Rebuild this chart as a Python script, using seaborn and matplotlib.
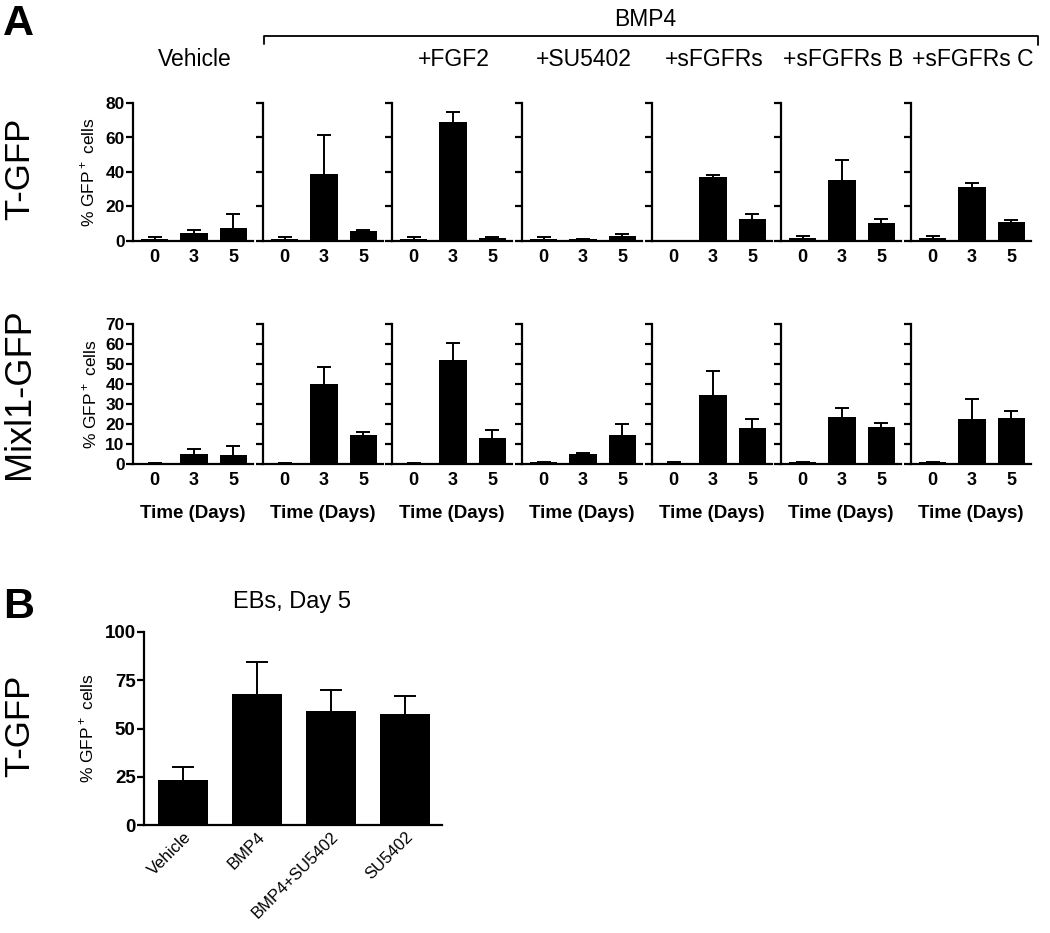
import numpy as np
import pandas as pd
import seaborn as sns
from matplotlib import pyplot as plt
from matplotlib.lines import Line2D

# datos
dias = ['0', '3', '5']
condiciones = ['Vehicle', 'BMP4', '+FGF2', '+SU5402', '+sFGFRs', '+sFGFRs B', '+sFGFRs C']
titulos = ['Vehicle', '', '+FGF2', '+SU5402', '+sFGFRs', '+sFGFRs B', '+sFGFRs C']

t_media = [[1.3, 4.4, 7.7], [1.3, 39.0, 6.0], [1.0, 69.2, 2.0], [1.0, 1.0, 3.1],
           [0.2, 36.9, 12.7], [1.7, 35.4, 10.6], [1.7, 31.3, 11.2]]
t_sem = [[1.2, 1.8, 7.9], [1.2, 22.7, 0.5], [1.3, 5.4, 0.2], [1.1, 0.3, 1.1],
         [0.0, 1.6, 3.1], [1.2, 11.3, 2.1], [1.4, 2.2, 1.1]]

mixl_media = [[0.5, 5.2, 4.7], [0.5, 40.2, 14.7], [0.5, 52.1, 13.2], [0.8, 4.8, 14.5],
              [0.5, 34.6, 18.2], [0.8, 23.5, 18.7], [0.8, 22.5, 23.0]]
mixl_sem = [[0.0, 2.5, 4.5], [0.0, 8.5, 1.3], [0.0, 8.2, 3.8], [0.2, 0.9, 5.5],
            [0.5, 11.7, 4.5], [0.4, 4.7, 1.8], [0.4, 10.2, 3.5]]

eb_grupos = ['Vehicle', 'BMP4', 'BMP4+SU5402', 'SU5402']
eb_media = [23.5, 67.8, 59.0, 57.3]
eb_sem = [6.6, 16.5, 10.9, 9.7]

sns.set_style('ticks')
plt.rcParams['font.family'] = ['Liberation Sans', 'DejaVu Sans']
plt.rcParams['mathtext.fontset'] = 'custom'
plt.rcParams['mathtext.rm'] = 'Liberation Sans'
for k in ['text.color', 'axes.labelcolor', 'xtick.color', 'ytick.color']:
    plt.rcParams[k] = 'black'

W, H = 1050, 933
fig = plt.figure(figsize=(W / 100, H / 100), dpi=100)


def caja(x0, y_top, ancho, y_bot):
    return [x0 / W, 1 - y_bot / H, ancho / W, (y_bot - y_top) / H]


def barras(ax, etiquetas, media, sem, ymax, yticks, cap, ancho=0.7, ytsize=12.5):
    df = pd.DataFrame({'grupo': etiquetas, 'valor': media})
    sns.barplot(data=df, x='grupo', y='valor', color='black', width=ancho,
                errorbar=None, saturation=1, edgecolor='black', linewidth=0, ax=ax)
    x = np.arange(len(media))
    eb = ax.errorbar(x, media, yerr=[np.zeros(len(sem)), sem], fmt='none',
                     ecolor='black', elinewidth=1.4, capsize=cap, capthick=1.4)
    # solo la barra de error superior
    eb[1][0].set_visible(False)
    ax.set_ylim(0, ymax)
    ax.set_yticks(yticks)
    ax.set_xlim(-0.55, len(media) - 0.5)
    for s in ['top', 'right']:
        ax.spines[s].set_visible(False)
    for s in ['left', 'bottom']:
        ax.spines[s].set_linewidth(1.6)
        ax.spines[s].set_color('black')
    ax.tick_params(axis='y', length=5, width=1.6, pad=1, labelsize=ytsize)
    ax.tick_params(axis='x', length=0, pad=6)
    for t in ax.get_yticklabels():
        t.set_fontweight('bold')
    ax.set_xlabel('')
    ax.set_ylabel('')


lefts = [133, 263, 392, 522, 652, 781, 911]
for i, cond in enumerate(condiciones):
    ax = fig.add_axes(caja(lefts[i], 103, 120, 241))
    barras(ax, dias, t_media[i], t_sem[i], 80, [0, 20, 40, 60, 80], 5)
    ax.tick_params(axis='x', labelsize=13)
    for t in ax.get_xticklabels():
        t.set_fontweight('bold')
    if i > 0:
        ax.set_yticklabels([])
    else:
        ax.set_ylabel('% GFP$^+$ cells', fontsize=12.5, labelpad=6)
    if titulos[i]:
        fig.text((lefts[i] + 62) / W, 1 - 60 / H, titulos[i], fontsize=16.5,
                 ha='center', va='center')

    ax2 = fig.add_axes(caja(lefts[i], 324, 120, 464))
    barras(ax2, dias, mixl_media[i], mixl_sem[i], 70, list(range(0, 71, 10)), 5)
    ax2.tick_params(axis='x', labelsize=13)
    for t in ax2.get_xticklabels():
        t.set_fontweight('bold')
    ax2.set_xlabel('Time (Days)', fontsize=13.5, fontweight='bold', labelpad=11)
    if i > 0:
        ax2.set_yticklabels([])
    else:
        ax2.set_ylabel('% GFP$^+$ cells', fontsize=12.5, labelpad=4)

# corchete BMP4
fig.add_artist(Line2D([264 / W, 264 / W, 1038 / W, 1038 / W],
                      [1 - 44 / H, 1 - 36 / H, 1 - 36 / H, 1 - 45 / H],
                      color='black', lw=1.3))
fig.text(645 / W, 1 - 19 / H, 'BMP4', fontsize=16.5, ha='center', va='center')

# panel B
axb = fig.add_axes(caja(144, 632, 298, 825))
barras(axb, eb_grupos, eb_media, eb_sem, 100, [0, 25, 50, 75, 100], 8,
       ancho=0.68, ytsize=13.5)
axb.set_xlim(-0.53, 3.5)
axb.tick_params(axis='x', labelsize=12, pad=3)
plt.setp(axb.get_xticklabels(), rotation=45, ha='right', rotation_mode='anchor')
axb.set_ylabel('% GFP$^+$ cells', fontsize=12.5, labelpad=6)
fig.text(292 / W, 1 - 602 / H, 'EBs, Day 5', fontsize=17, ha='center', va='center')

# letras y rotulos
fig.text(3 / W, 1 - 24 / H, 'A', fontsize=31, fontweight='bold', va='center')
fig.text(3 / W, 1 - 607 / H, 'B', fontsize=31, fontweight='bold', va='center')
fig.text(20 / W, 1 - 169 / H, 'T-GFP', fontsize=25, rotation=90, ha='center', va='center')
fig.text(20 / W, 1 - 394 / H, 'Mixl1-GFP', fontsize=26, rotation=90, ha='center', va='center')
fig.text(20 / W, 1 - 726 / H, 'T-GFP', fontsize=25, rotation=90, ha='center', va='center')

fig.savefig('out.png', dpi=100)
